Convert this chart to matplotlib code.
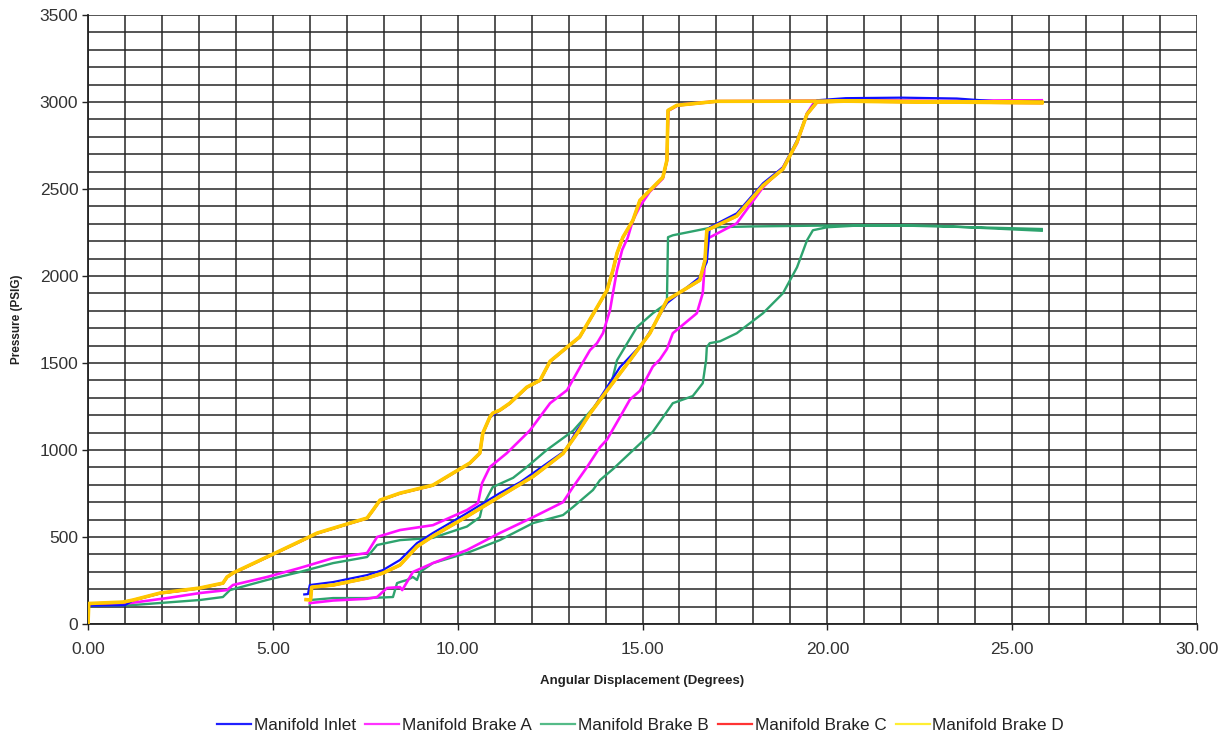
import numpy as np
import matplotlib
matplotlib.use("Agg")
import matplotlib.pyplot as plt
from matplotlib.lines import Line2D
from matplotlib.ticker import MultipleLocator, FormatStrFormatter

plt.rcParams['font.family'] = ['Liberation Sans', 'DejaVu Sans']

NAN = float('nan')

# ---------------- data (two runs per channel, separated by a gap) ----------------
inlet_x1 = [0.0, 1.0, 1.22, 1.95, 3.03, 3.65, 3.76, 3.92, 4.84, 5.92, 6.19, 7.09, 7.55, 7.71, 7.9, 8.44,
            9.33, 9.87, 10.33, 10.6, 10.68, 10.87, 11.14, 11.41, 11.87, 12.23, 12.5, 12.96, 13.3, 13.66,
            14.04, 14.2, 14.31, 14.47, 14.74, 14.93, 15.2, 15.55, 15.66, 15.69, 15.93, 17.0, 20.0, 23.0, 25.8]
inlet_y1 = [105, 108, 136, 176, 205, 233, 268, 291, 383, 492, 520, 578, 607, 653, 710, 750,
            796, 865, 923, 980, 1095, 1187, 1227, 1267, 1359, 1399, 1508, 1589, 1648, 1778,
            1916, 2031, 2129, 2221, 2318, 2433, 2490, 2565, 2663, 2950, 2980, 3004, 3006, 3003, 3001]
inlet_x2 = [5.85, 5.95, 6.0, 6.63, 7.55, 7.98, 8.44, 8.9, 9.33, 10.25, 11.14, 11.69, 12.04, 12.9,
            13.23, 13.58, 14.04, 14.39, 15.01, 15.66, 16.55, 16.74, 16.82, 17.55, 18.26, 18.8,
            19.18, 19.45, 19.72, 20.5, 22.0, 23.5, 24.5, 25.8]
inlet_y2 = [170, 172, 224, 241, 281, 310, 368, 465, 523, 637, 752, 815, 867, 995,
            1114, 1210, 1361, 1476, 1614, 1844, 1993, 2080, 2280, 2360, 2533, 2625,
            2780, 2935, 3010, 3022, 3025, 3020, 3005, 3005]

brakeA_x1 = [0.0, 0.95, 2.14, 3.03, 3.76, 3.92, 4.84, 5.73, 6.0, 6.63, 7.55, 7.82, 8.44, 9.33, 10.25,
             10.55, 10.66, 10.87, 11.33, 11.69, 11.96, 12.5, 12.96, 13.31, 13.58, 13.77, 13.93, 14.12,
             14.2, 14.31, 14.45, 14.6, 14.74, 14.93, 15.2, 15.55, 15.66, 15.7, 16.0, 17.0, 20.0, 23.0, 25.8]
brakeA_y1 = [109, 115, 149, 178, 195, 224, 270, 322, 339, 379, 408, 500, 540, 568, 655,
             695, 810, 902, 982, 1057, 1114, 1269, 1344, 1476, 1574, 1614, 1671, 1803,
             1901, 2033, 2150, 2220, 2320, 2400, 2485, 2560, 2660, 2950, 2985, 3005, 3008, 3005, 3010]
brakeA_x2 = [6.0, 6.63, 7.55, 7.82, 8.09, 8.44, 8.5, 8.79, 9.33, 10.25, 11.14, 12.04, 12.85, 13.12,
             13.5, 13.85, 14.04, 14.39, 14.66, 14.93, 15.28, 15.47, 15.66, 15.82, 16.47, 16.63, 16.69,
             16.74, 16.82, 17.55, 18.26, 18.8, 19.18, 19.45, 19.65, 21.0, 23.0, 25.8]
brakeA_y2 = [120, 135, 145, 155, 207, 212, 195, 299, 350, 425, 523, 614, 700, 787,
             902, 1016, 1060, 1189, 1290, 1340, 1480, 1520, 1580, 1671, 1786, 1901, 2090,
             2205, 2222, 2303, 2510, 2625, 2762, 2935, 3000, 3008, 3005, 3005]

brakeB_x1 = [0.0, 1.22, 3.03, 3.65, 3.84, 4.84, 5.73, 6.63, 7.55, 7.82, 8.44, 9.33, 10.25, 10.6,
             10.66, 10.95, 11.5, 11.87, 12.41, 13.12, 13.93, 14.2, 14.31, 14.85, 15.28, 15.66,
             15.69, 15.82, 16.9, 18.0, 20.0, 22.0, 24.0, 25.8]
brakeB_y1 = [103, 109, 138, 155, 195, 253, 299, 350, 385, 454, 482, 495, 560, 614,
             672, 787, 840, 902, 1000, 1110, 1304, 1419, 1516, 1706, 1786, 1844,
             2223, 2234, 2280, 2285, 2290, 2290, 2280, 2270]
brakeB_x2 = [6.0, 6.02, 6.63, 7.55, 8.25, 8.36, 8.44, 8.63, 8.79, 8.9, 8.98, 9.33, 10.25, 11.14,
             12.04, 12.85, 13.12, 13.66, 13.85, 14.2, 14.66, 15.28, 15.82, 16.36, 16.63, 16.72,
             16.74, 16.82, 17.1, 17.55, 18.26, 18.8, 19.18, 19.45, 19.61, 19.99, 21.0, 23.0, 25.8]
brakeB_y2 = [109, 138, 149, 149, 155, 235, 241, 253, 270, 253, 299, 350, 408, 482,
             580, 626, 672, 770, 827, 890, 982, 1105, 1269, 1310, 1384, 1516,
             1591, 1614, 1625, 1671, 1786, 1901, 2050, 2205, 2263, 2280, 2292, 2288, 2260]

brakeC_x1 = [0.0, 0.02, 0.95, 1.22, 1.95, 3.03, 3.65, 3.76, 3.92, 4.84, 5.92, 6.19, 7.09, 7.55, 7.71,
             7.9, 8.44, 9.33, 9.87, 10.33, 10.6, 10.68, 10.87, 10.95, 11.14, 11.41, 11.87, 12.23, 12.5,
             12.96, 13.3, 13.66, 14.04, 14.2, 14.31, 14.47, 14.74, 14.93, 15.2, 15.55, 15.66, 15.69,
             15.93, 17.0, 20.0, 23.0, 25.8]
brakeC_y1 = [0, 116, 125, 137, 177, 206, 234, 269, 292, 384, 493, 521, 579, 608, 654,
             711, 751, 797, 866, 924, 981, 1096, 1188, 1211, 1228, 1268, 1360, 1400, 1509,
             1590, 1649, 1779, 1917, 2032, 2130, 2222, 2319, 2434, 2491, 2566, 2664, 2951,
             2980, 3003, 3004, 3001, 2999]
brakeC_x2 = [5.9, 6.02, 6.05, 6.63, 7.55, 7.98, 8.44, 8.9, 9.33, 10.25, 11.14, 12.04, 12.85, 13.23,
             13.58, 14.04, 14.39, 14.66, 15.2, 15.66, 16.55, 16.69, 16.74, 17.55, 18.26, 18.8, 19.18,
             19.45, 19.72, 20.5, 23.0, 25.8]
brakeC_y2 = [141, 139, 211, 223, 263, 292, 338, 444, 504, 617, 732, 847, 979, 1094,
             1209, 1341, 1439, 1515, 1670, 1860, 1975, 2089, 2262, 2344, 2519, 2614, 2769,
             2929, 2999, 3004, 2999, 2994]

brakeD_x1 = [0.0, 0.02, 0.95, 1.22, 1.95, 3.03, 3.65, 3.76, 3.92, 4.84, 5.92, 6.19, 7.09, 7.55, 7.71,
             7.9, 8.44, 9.33, 9.87, 10.33, 10.6, 10.68, 10.87, 10.95, 11.14, 11.41, 11.87, 12.23, 12.5,
             12.96, 13.3, 13.66, 14.04, 14.2, 14.31, 14.47, 14.74, 14.93, 15.2, 15.55, 15.66, 15.69,
             15.93, 17.0, 20.0, 23.0, 25.8]
brakeD_y1 = [0, 118, 126, 138, 178, 207, 235, 270, 293, 385, 494, 522, 580, 609, 655,
             712, 752, 798, 867, 925, 982, 1097, 1189, 1212, 1229, 1269, 1361, 1401, 1510,
             1591, 1650, 1780, 1918, 2033, 2131, 2223, 2320, 2435, 2492, 2567, 2665, 2952,
             2981, 3004, 3005, 3002, 3000]
brakeD_x2 = [5.9, 6.02, 6.05, 6.63, 7.55, 7.98, 8.44, 8.9, 9.33, 10.25, 11.14, 12.04, 12.85, 13.23,
             13.58, 14.04, 14.39, 14.66, 15.2, 15.66, 16.55, 16.69, 16.74, 17.55, 18.26, 18.8, 19.18,
             19.45, 19.72, 20.5, 23.0, 25.8]
brakeD_y2 = [140, 138, 212, 224, 264, 293, 339, 445, 505, 618, 733, 848, 980, 1095,
             1210, 1342, 1440, 1516, 1671, 1861, 1976, 2090, 2263, 2345, 2520, 2615, 2770,
             2930, 3000, 3005, 3000, 2995]

labels = ['Manifold Inlet', 'Manifold Brake A', 'Manifold Brake B', 'Manifold Brake C', 'Manifold Brake D']

def join(a, b):
    return a + [NAN] + b

# ---------------- figure ----------------
fig = plt.figure(figsize=(12.27, 7.40), dpi=100)
ax = fig.add_axes([88/1227, 1-624/740, (1197-88)/1227, (624-15)/740])

ax.set_xlim(0, 30)
ax.set_ylim(0, 3500)
ax.xaxis.set_major_locator(MultipleLocator(5))
ax.xaxis.set_minor_locator(MultipleLocator(1))
ax.yaxis.set_major_locator(MultipleLocator(500))
ax.yaxis.set_minor_locator(MultipleLocator(100))
ax.xaxis.set_major_formatter(FormatStrFormatter('%.2f'))
ax.grid(which='both', color='#262626', linewidth=1.1)
ax.set_axisbelow(True)
ax.tick_params(which='major', direction='out', length=4, width=1, color='#222222',
               labelsize=12.5, labelcolor='#333333', pad=3)
ax.tick_params(which='minor', length=0)
ax.tick_params(axis='x', pad=9)
for s in ['top', 'right']:
    ax.spines[s].set_visible(False)
for s in ['left', 'bottom']:
    ax.spines[s].set_color('#222222')
    ax.spines[s].set_linewidth(1.3)

ax.plot(join(inlet_x1, inlet_x2), join(inlet_y1, inlet_y2), color='#1010FF', lw=1.6, zorder=3)
ax.plot(join(brakeA_x1, brakeA_x2), join(brakeA_y1, brakeA_y2), color='#FF10FF', lw=1.9, zorder=2.9)
ax.plot(join(brakeB_x1, brakeB_x2), join(brakeB_y1, brakeB_y2), color='#2EA36E', lw=1.7, zorder=2.8)
ax.plot(join(brakeC_x1, brakeC_x2), join(brakeC_y1, brakeC_y2), color='#FF2020', lw=2.0, zorder=3.1)
ax.plot(join(brakeD_x1, brakeD_x2), join(brakeD_y1, brakeD_y2), color='#FFC800', lw=2.6, zorder=3.2)

ax.set_xlabel('Angular Displacement (Degrees)', fontsize=9.5, fontweight='bold', labelpad=13,
              color='#222222')
ax.set_ylabel('Pressure (PSIG)', fontsize=8.5, fontweight='bold', labelpad=12, color='#222222')

handles = [Line2D([], [], color=c, lw=1.6) for c in
           ['#2020FF', '#FF33FF', '#55BB88', '#FF3333', '#FFEE33']]
fig.legend(handles, labels, loc='center', bbox_to_anchor=(0.522, 1-725/740), ncol=5,
           frameon=False, fontsize=12.3, handlelength=2.0, handletextpad=0.15, columnspacing=0.55,
           labelcolor='#222222')

fig.savefig('out.png', dpi=100)
